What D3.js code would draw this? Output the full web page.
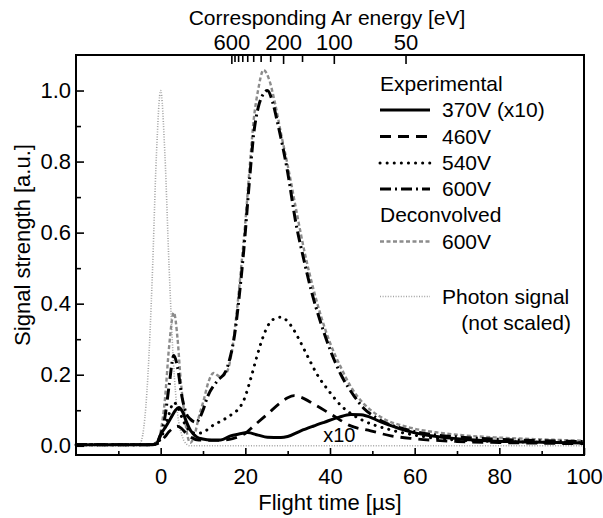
<!DOCTYPE html>
<html>
<head>
<meta charset="utf-8">
<script src="https://cdn.jsdelivr.net/npm/d3@7"></script>
<style>
  body { margin: 0; background: #fff; }
  text { font-family: Arial, "Liberation Sans", Helvetica, sans-serif; fill: #000; }
</style>
</head>
<body>
<div id="chart"></div>
<script>
// ---- data ----
// photon signal (not scaled)
var tPhoton = [-20, -6, -5, -4, -3, -2, -1, 0, 1, 2, 3, 4, 5, 6, 7, 20, 40, 60, 80, 100];
var vPhoton = [0, 0, 0.003, 0.05, 0.2, 0.47, 0.82, 1.0, 0.82, 0.5, 0.24, 0.09, 0.03, 0.006, 0, 0, 0, 0, 0, 0];

// deconvolved 600V
var tDecon = [-20, -5, -2, -1, 0, 1, 2, 3.1, 4, 4.7, 5.5, 6.3, 7, 8, 9, 10.2, 11.3, 12.5, 14, 15.5, 17, 18, 19, 20, 21, 22, 23, 24.3, 25.5, 27, 28.5, 30, 32, 34, 36, 38, 40, 42.6, 45, 48, 50, 53, 57, 60, 65, 70, 80, 90, 100];
var vDecon = [0.003, 0.003, 0.004, 0.01, 0.04, 0.13, 0.28, 0.375, 0.3, 0.19, 0.1, 0.03, 0.008, 0.03, 0.08, 0.13, 0.18, 0.205, 0.195, 0.205, 0.28, 0.38, 0.5, 0.63, 0.78, 0.92, 1.0, 1.058, 1.035, 0.965, 0.875, 0.79, 0.665, 0.545, 0.445, 0.36, 0.29, 0.22, 0.165, 0.118, 0.097, 0.074, 0.057, 0.048, 0.038, 0.031, 0.023, 0.018, 0.014];

// experimental, 370V (x10)
var t370 = [-20, -5, -2, -1, 0, 1, 2.4, 3.5, 4.3, 5.2, 6, 7.1, 8.5, 9.9, 12, 14.2, 16.5, 18.5, 20.5, 23, 25.2, 28.4, 30, 33.1, 36, 38.6, 42, 44.9, 47.3, 50, 52, 56, 59.8, 63.8, 70, 80, 90, 100];
var v370 = [0.003, 0.003, 0.003, 0.006, 0.032, 0.05, 0.078, 0.1, 0.108, 0.095, 0.07, 0.042, 0.025, 0.019, 0.016, 0.016, 0.028, 0.033, 0.037, 0.03, 0.024, 0.023, 0.026, 0.042, 0.055, 0.066, 0.08, 0.088, 0.087, 0.078, 0.067, 0.05, 0.037, 0.028, 0.02, 0.013, 0.01, 0.008];

// experimental, 460V
var t460 = [-20, -5, -2, -1, 0, 1, 2, 3, 4, 5, 6, 7, 9, 12, 15, 17, 20, 22, 25.2, 28.4, 30, 31.5, 33, 36.2, 40.2, 44.9, 49.6, 54.4, 59.8, 65, 70, 80, 90, 100];
var v460 = [0.003, 0.003, 0.003, 0.005, 0.012, 0.025, 0.04, 0.05, 0.055, 0.048, 0.035, 0.025, 0.016, 0.015, 0.016, 0.02, 0.035, 0.056, 0.089, 0.122, 0.135, 0.141, 0.137, 0.117, 0.089, 0.056, 0.042, 0.028, 0.02, 0.015, 0.012, 0.009, 0.007, 0.006];

// experimental, 540V
var t540 = [-20, -5, -2, -1, 0, 1, 2, 3.1, 4, 5, 6, 7, 8.5, 9.9, 11, 12.2, 14, 15.8, 17, 18.1, 19.7, 21.3, 22.7, 24, 25.2, 26.5, 28.4, 30, 31.5, 33.1, 35, 37, 40, 42.6, 45, 48, 53.6, 60, 65, 70, 80, 90, 100];
var v540 = [0.003, 0.003, 0.003, 0.006, 0.02, 0.05, 0.09, 0.122, 0.11, 0.08, 0.055, 0.04, 0.035, 0.037, 0.045, 0.056, 0.068, 0.08, 0.09, 0.1, 0.13, 0.19, 0.25, 0.3, 0.335, 0.355, 0.362, 0.35, 0.325, 0.29, 0.245, 0.2, 0.15, 0.113, 0.09, 0.07, 0.047, 0.03, 0.021, 0.016, 0.012, 0.01, 0.008];

// experimental, 600V
var t600 = [-20, -5, -2, -1, 0, 1, 2, 3.1, 4, 5, 6, 7, 8.3, 10, 11, 13.4, 15.4, 16.1, 17.3, 18.9, 19.7, 21, 22, 23, 24, 25.2, 26.5, 27.6, 30, 31.9, 33.9, 35.5, 37.8, 40.2, 42.6, 45.7, 48, 50.4, 53, 56.7, 60, 65, 70, 80, 90, 100];
var v600 = [0.003, 0.003, 0.003, 0.008, 0.03, 0.08, 0.17, 0.254, 0.22, 0.14, 0.092, 0.075, 0.066, 0.1, 0.136, 0.183, 0.21, 0.235, 0.3, 0.46, 0.56, 0.75, 0.88, 0.95, 0.985, 1.0, 0.965, 0.91, 0.77, 0.63, 0.52, 0.44, 0.347, 0.265, 0.2, 0.14, 0.105, 0.083, 0.065, 0.05, 0.04, 0.03, 0.025, 0.018, 0.014, 0.012];

// axis ticks
var xTicks = [0, 20, 40, 60, 80, 100];
var xMinor = [-10, 10, 30, 50, 70, 90];
var yTicks = [0, 0.2, 0.4, 0.6, 0.8, 1.0];
var yMinor = [0.1, 0.3, 0.5, 0.7, 0.9];
var eMajor = [600, 200, 100, 50];
var eMinor = [550, 500, 450, 400, 350, 300, 250, 150];

// legend
var legendNames = ["370V (x10)", "460V", "540V", "600V", "600V", "Photon signal"];

var width = 603,
    height = 518;
var margin = {top: 55, right: 19, bottom: 63, left: 76};

var svg = d3.select("#chart")
  .append("svg")
  .attr("width", width)
  .attr("height", height);

var x = d3.scaleLinear().domain([-20, 100]).range([margin.left, width - margin.right]);
var y = d3.scaleLinear().domain([-0.026, 1.1]).range([height - margin.bottom, margin.top]);

// energy axis: t = 409 / sqrt(E)
var e = d3.scalePow().exponent(-0.5)
  .domain([100, 50])
  .range([x(409 / 10), x(409 / Math.sqrt(50))]);

function zip(ts, vs){
  return ts.map(function(t, i){ return [t, vs[i]]; });
}

var line = d3.line()
  .x(function(d){ return x(d[0]); })
  .y(function(d){ return y(d[1]); })
  .curve(d3.curveMonotoneX);

var series = [
  {data: zip(tPhoton, vPhoton), stroke: "#a3a3a3", w: 1.6, dash: "1,1.6", cap: "butt"},
  {data: zip(tDecon, vDecon), stroke: "#8c8c8c", w: 2.4, dash: "4,2.5", cap: "butt"},
  {data: zip(t370, v370), stroke: "#000", w: 3, dash: null, cap: "butt"},
  {data: zip(t460, v460), stroke: "#000", w: 2.8, dash: "11,7", cap: "butt"},
  {data: zip(t540, v540), stroke: "#000", w: 3, dash: "0.1,7", cap: "round"},
  {data: zip(t600, v600), stroke: "#000", w: 3, dash: "11,4,2,4", cap: "butt"}
];

var plot = svg.append("g");
plot.selectAll("path.series")
  .data(series)
  .enter()
  .append("path")
  .attr("class", "series")
  .attr("d", function(d){ return line(d.data); })
  .attr("fill", "none")
  .attr("stroke", function(d){ return d.stroke; })
  .attr("stroke-width", function(d){ return d.w; })
  .attr("stroke-dasharray", function(d){ return d.dash; })
  .attr("stroke-linecap", function(d){ return d.cap; })
  .attr("stroke-linejoin", "round");

// axes
var fontSize = 21,
    axisFont = 22;

svg.append("g")
  .attr("transform", "translate(0," + (height - margin.bottom) + ")")
  .call(d3.axisBottom(x).tickValues(xTicks).tickSize(-7).tickPadding(13).tickFormat(d3.format("d")));
svg.append("g")
  .attr("transform", "translate(0," + (height - margin.bottom) + ")")
  .call(d3.axisBottom(x).tickValues(xMinor).tickSize(-4).tickFormat(""));

svg.append("g")
  .attr("transform", "translate(" + margin.left + ",0)")
  .call(d3.axisLeft(y).tickValues(yTicks).tickSize(-8).tickPadding(5).tickFormat(d3.format(".1f")));
svg.append("g")
  .attr("transform", "translate(" + margin.left + ",0)")
  .call(d3.axisLeft(y).tickValues(yMinor).tickSize(-5).tickFormat(""));

svg.append("g")
  .attr("transform", "translate(0," + margin.top + ")")
  .call(d3.axisTop(e).tickValues(eMajor).tickSize(-9).tickPadding(5).tickFormat(d3.format("d")));
svg.append("g")
  .attr("transform", "translate(0," + margin.top + ")")
  .call(d3.axisTop(e).tickValues(eMinor).tickSize(-7).tickFormat(""));

svg.selectAll(".domain").remove();
svg.selectAll(".tick line").attr("stroke", "#000").attr("stroke-width", 1.6);
svg.selectAll(".tick text").attr("font-size", axisFont).attr("fill", "#000");

// frame
svg.append("rect")
  .attr("x", margin.left)
  .attr("y", margin.top)
  .attr("width", width - margin.left - margin.right)
  .attr("height", height - margin.top - margin.bottom)
  .attr("fill", "none")
  .attr("stroke", "#000")
  .attr("stroke-width", 2);

// titles
svg.append("text")
  .attr("x", (margin.left + width - margin.right) / 2)
  .attr("y", 510)
  .attr("text-anchor", "middle")
  .attr("font-size", axisFont)
  .text("Flight time [\u00b5s]");

svg.append("text")
  .attr("transform", "translate(30," + 245 + ") rotate(-90)")
  .attr("text-anchor", "middle")
  .attr("font-size", axisFont)
  .text("Signal strength [a.u.]");

svg.append("text")
  .attr("x", 327)
  .attr("y", 25)
  .attr("text-anchor", "middle")
  .attr("font-size", fontSize)
  .text("Corresponding Ar energy [eV]");

svg.append("text")
  .attr("x", x(42.2))
  .attr("y", y(0.012))
  .attr("text-anchor", "middle")
  .attr("font-size", fontSize - 1)
  .text("x10");

// legend
var lx0 = 380, lx1 = 430, tx = 442;
var legend = svg.append("g");

legend.append("text").attr("x", lx0).attr("y", 83.5).attr("dy", "0.35em").attr("font-size", fontSize).text("Experimental");
legend.append("text").attr("x", lx0).attr("y", 215).attr("dy", "0.35em").attr("font-size", fontSize).text("Deconvolved");

var legendRows = [
  {s: series[2], yy: 110},
  {s: series[3], yy: 136.5},
  {s: series[4], yy: 163},
  {s: series[5], yy: 189},
  {s: series[1], yy: 241.5},
  {s: series[0], yy: 296.5}
];

legendRows.forEach(function(r, i){
  legend.append("line")
    .attr("x1", lx0).attr("x2", lx1)
    .attr("y1", r.yy).attr("y2", r.yy)
    .attr("stroke", r.s.stroke)
    .attr("stroke-width", r.s.w)
    .attr("stroke-dasharray", r.s.dash)
    .attr("stroke-linecap", r.s.cap);
  legend.append("text")
    .attr("x", tx).attr("y", r.yy).attr("dy", "0.35em")
    .attr("font-size", fontSize)
    .text(legendNames[i]);
});

legend.append("text").attr("x", 571).attr("y", 323).attr("dy", "0.35em")
  .attr("text-anchor", "end").attr("font-size", fontSize).text("(not scaled)");
</script>
</body>
</html>
